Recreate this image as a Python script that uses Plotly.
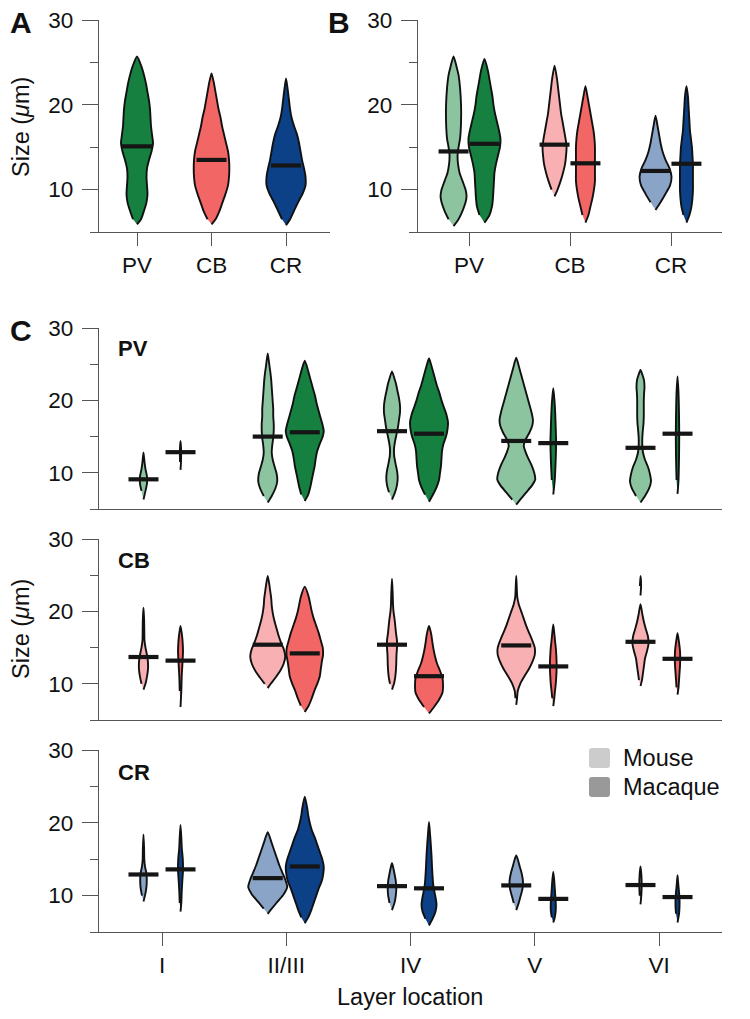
import plotly.graph_objects as go

W, H = 750, 1019

# ---------------- data ----------------
cell_types = ["PV", "CB", "CR"]
layers = ["I", "II/III", "IV", "V", "VI"]

# colours: (mouse, macaque)
colors = {"PV": ("#8cc4a0", "#168040"),
          "CB": ("#f8b0b2", "#f36666"),
          "CR": ("#8aa4c8", "#0c4087")}

# violin profiles: [size (um), density half-width (px)]; None splits a violin into pieces
A_profiles = [
    [[5.9,0],[6.5,4],[7.5,7],[8.5,9.5],[9.5,10.5],[10.5,10],[11.5,9.5],[12.5,10],[13.5,12],[14.5,14.5],[15.5,16],[16.5,15],[17.5,14],[18.5,13.5],[19.5,13],[20.5,12],[21.5,10.5],[22.5,9],[23.5,7],[24.5,4.5],[25.7,0]],
    [[5.9,0],[6.5,4],[7.5,8],[8.5,11],[9.5,14],[10.5,16.5],[11.5,17.5],[12.5,17.8],[13.5,17.5],[14.5,16.5],[15.5,14.5],[16.5,12.5],[17.5,10.5],[18.5,9],[19.5,7],[20.5,5.5],[21.5,4],[22.5,2.5],[23.7,0]],
    [[5.8,0],[6.5,4],[7.5,8],[8.5,12],[9.5,16.5],[10.5,19.5],[11.5,19.5],[12.5,18],[13.5,16],[14.5,14.5],[15.5,13],[16.5,11],[17.5,8],[18.5,5.5],[19.5,4],[20.5,3],[21.5,2],[23.1,0]],
]
A_medians = [15.1, 13.5, 12.85]

B_mouse_profiles = [
    [[5.7,0],[6.5,5],[7.5,9],[8.5,12],[9.2,13],[10,12],[11,9],[12,6],[13,4.5],[14,4],[15,5],[16,6.5],[18,7.5],[20,7.5],[22,6.5],[23.5,5],[24.5,3],[25.7,0]],
    [[9.2,0],[10,3],[11,6],[12,8.5],[13,10.5],[14,11.5],[15,12],[16,11],[17,9.5],[18,8],[19,6.5],[20,5.5],[21,4.5],[22,3.5],[23,2.5],[24.6,0]],
    [[7.6,0],[8.5,5],[9.5,10],[10.5,14.5],[11.5,16],[12.5,14],[13.5,10],[14.5,7],[15.5,5],[16.5,3.5],[17.5,2],[18.7,0]],
]
B_mouse_medians = [14.5, 15.3, 12.2]
B_macaque_profiles = [
    [[6.1,0],[7,5],[8,7.5],[9,8.5],[10,9],[11,9.5],[12,10],[13,11.5],[14,13.5],[15,15.5],[16,16],[17,14.5],[18,12.5],[19,10.5],[20,9],[21,8],[22,6.5],[23,5],[24,3.5],[25.4,0]],
    [[6.1,0],[7,3],[8,5],[9,7],[10,8.5],[11,9.5],[12,9.5],[13,9.5],[14,9.5],[15,9.5],[16,9],[17,8],[18,6.5],[19,5],[20,3.5],[21,2],[22.2,0]],
    [[6.1,0],[7,3],[8,5],[9,6],[10,6.5],[11,6.5],[12,6.5],[13,6.5],[14,6],[15,5.5],[16,4.5],[17,3.5],[18,3],[19,2.5],[20,2],[21,1.5],[22.2,0]],
]
B_macaque_medians = [15.4, 13.1, 13.05]

C_PV_mouse = [
    [[6.3,0],[7.5,2],[8.5,3.5],[9.5,3.5],[10.5,2],[11.5,1],[12.8,0]],
    [[5.9,0],[6.8,4],[7.8,7.5],[8.8,9.5],[9.8,9],[10.8,7],[11.8,5],[12.8,4],[13.8,4.5],[14.8,5.5],[15.8,6],[16.8,6],[17.8,5.5],[18.8,5.5],[19.8,5],[20.8,4.5],[21.8,4],[22.8,3.5],[24,2.5],[25,1.5],[26.5,0]],
    [[6.3,0],[7.3,3],[8.3,5],[9.3,5.7],[10.3,5],[11.3,3.5],[12.3,2.2],[13.3,2],[14.3,3],[15.3,4.5],[16.3,6],[17.3,7],[18.3,8],[19.3,8],[20.3,7],[21.3,5.5],[22.3,4],[23,2.5],[24,0]],
    [[5.6,0],[6.3,4],[7.3,10],[8.3,16],[9.1,19],[10,18],[11,15.5],[12,12],[13,9],[13.7,7.5],[14.5,9],[15.5,13],[16.5,16],[17.3,16.7],[18.5,15],[19.5,13],[20.5,11],[21.5,9],[22.5,7],[23.5,5],[24.5,3],[25.9,0]],
    [[5.9,0],[6.8,4.5],[7.8,8.5],[8.8,10.5],[9.8,9.5],[10.8,7.5],[11.8,4.5],[12.8,2.5],[13.8,1.8],[14.8,1.8],[15.8,2.3],[16.8,3],[17.8,3.3],[18.8,3.3],[19.8,3.3],[20.8,3.5],[21.8,4],[22.8,3.5],[23.5,2],[24.2,0]],
]
C_PV_mouse_medians = [9.1, 15.0, 15.75, 14.4, 13.45]
C_PV_macaque = [
    [[10.4,0],[11.5,0.5],[12.8,0.6],[13.5,0.5],[14.4,0]],
    [[6.1,0],[7,3.5],[8,5.5],[9,7],[10,8.5],[11,10],[12,11],[13,12.5],[14,15],[15,18],[15.8,19],[16.5,18],[17.5,16],[18.5,14],[19.5,12],[20.5,10.5],[21.5,8.5],[22.5,6.5],[23.5,4.5],[24.5,2.5],[25.5,0]],
    [[6,0],[7,4],[8,7.5],[9,10],[10,11],[11,12],[12,12.5],[13,13],[14,14.5],[15,17],[16,18.5],[17,19],[18,17.5],[19,15],[20,12.5],[21,10.5],[22,8],[23,6],[24,4],[25,2],[25.8,0]],
    [[7,0],[9,1.5],[11,2.2],[13,2.7],[14.5,2.8],[16,2.5],[18,2],[20,1.2],[21.7,0]],
    [[7.1,0],[9,1],[12,1.5],[15,1.7],[18,1.5],[21,1],[23.3,0]],
]
C_PV_macaque_medians = [12.85, 15.6, 15.4, 14.1, 15.4]

C_CB_mouse = [
    [[9.2,0],[10,2],[11,3.5],[12,4.5],[13,4.5],[14,3.5],[15,2],[16,1],[17.5,0.8],[19,0.6],[20.5,0]],
    [[9.4,0],[10,3],[10.8,7.5],[11.8,12.5],[12.8,16],[13.8,17.5],[14.8,16],[15.8,13],[16.8,10.5],[17.8,8.5],[18.8,6.5],[19.8,5],[20.8,4],[21.8,3.5],[22.8,2.5],[23.8,1.5],[24.9,0]],
    [[9.2,0],[10,2],[11,3.3],[12,4],[13,4.3],[14,4.5],[15,5],[16,5],[17,4],[18,3.3],[19,2.5],[20,1.5],[21,1],[22.5,0.7],[24.5,0]],
    [[7.1,0],[8,0.8],[9,1.5],[10,4],[11,8],[12,12.5],[13,16],[14,18.5],[15,18.5],[16,16],[17,13],[18,10],[19,7.5],[20,5],[21,2.5],[22,1],[24.9,0]],
    [[9.7,0],[10.5,1.5],[11.5,2.5],[12.5,3.5],[13.5,4.5],[14.5,6.5],[15.5,8],[16.5,7.5],[17.5,5.5],[18.5,3.5],[19.5,2],[21,0], None, [22.2,0],[23.5,0.6],[24.9,0]],
]
C_CB_mouse_medians = [13.7, 15.4, 15.4, 15.3, 15.8]
C_CB_macaque = [
    [[6.8,0],[9,0.8],[11,1.2],[13,2],[14.5,2.5],[16,2],[17,1.2],[18,0]],
    [[6.1,0],[7,4],[8,7],[9,9.5],[10,12.5],[11,15],[12,16],[13,17],[14,18.3],[15,18],[16,16],[17,14],[18,11.5],[19,9],[20,7],[21,5.5],[22,4],[23.4,0]],
    [[5.9,0],[6.8,5],[7.8,10],[8.8,13.5],[9.8,14],[10.8,13.5],[11.8,11],[12.8,8],[13.8,6],[14.8,4.5],[15.8,3.3],[16.8,2.3],[18,0]],
    [[6.9,0],[8,1],[9,1.7],[10,2.5],[11,3],[12,3.3],[13,3.3],[14,3],[15,2.5],[16,1.7],[17,1],[18.2,0]],
    [[8.5,0],[9.5,1],[10.5,1.5],[11.5,2],[12.5,2.5],[13.5,2.7],[14.5,2.5],[15.5,1.7],[16.2,1],[17,0]],
]
C_CB_macaque_medians = [13.2, 14.2, 11.05, 12.4, 13.45]

C_CR_mouse = [
    [[9.2,0],[10,1.5],[11,2.8],[12,3.3],[13,3],[14,1.5],[15,0.8],[16.5,0.6],[18.4,0]],
    [[7.5,0],[8.2,4],[9.2,10],[10.2,16],[11.2,19.5],[12.2,17.5],[13.2,14.5],[14.2,11.5],[15.2,9],[16.2,6.5],[17.2,4],[18.7,0]],
    [[8,0],[9,2.5],[10,3.8],[11,4.3],[12,3.8],[13,2.5],[14,1],[14.5,0]],
    [[8,0],[9,2.5],[10,4.5],[11,6.3],[12,6.7],[13,5.5],[14,3.5],[15,1.5],[15.5,0]],
    [[8.8,0],[10,0.8],[11.5,1.2],[13,0.8],[14,0]],
]
C_CR_mouse_medians = [12.9, 12.4, 11.3, 11.4, 11.45]
C_CR_macaque = [
    [[7.8,0],[9,0.8],[10.5,1.2],[12,1.8],[13.5,2.5],[15,2.3],[16.5,1.3],[18,0.8],[19.7,0]],
    [[6.2,0],[7,3.5],[8,6.5],[9,9],[10,11.5],[11,14],[12,17],[13,18.5],[14,19],[15,17.5],[16,15],[17,12.5],[18,10],[19,7],[20,5],[21,3.5],[22,2.5],[23.6,0]],
    [[5.9,0],[6.8,3.5],[7.8,6.5],[8.8,7.5],[9.8,6.5],[10.8,5],[11.8,4],[12.8,3.5],[14,3],[15.5,2.5],[17,1.8],[18.5,1],[20.1,0]],
    [[6.3,0],[7,1.5],[8,2.5],[9,2.5],[10,2],[11,1.5],[12,1],[13.3,0]],
    [[6.3,0],[7.5,1.5],[8.5,2],[9.5,2],[10.5,1.5],[11.5,0.8],[12.8,0]],
]
C_CR_macaque_medians = [13.6, 14.0, 11.0, 9.55, 9.8]

# ---------------- layout helpers ----------------
FONT = "Liberation Sans, Arial, Helvetica, sans-serif"
AX = "#555555"
TXT = "#111111"
TICK_FS = 22.5
LABEL_FS = 23.5

def fx(px):
    return px / W

def fy(py):
    return 1 - py / H

# axis geometry (pixel domains)
axes_geo = {
    "A": dict(x=(99, 330), rng=(-0.51, 2.59), y=(232, 20)),
    "B": dict(x=(418, 722), rng=(-0.505, 2.505), y=(232, 20)),
    "C1": dict(x=(99, 722), rng=(-0.507, 4.507), y=(509, 328)),
    "C2": dict(x=(99, 722), rng=(-0.507, 4.507), y=(720, 539)),
    "C3": dict(x=(99, 722), rng=(-0.507, 4.507), y=(932, 750)),
}
axis_ids = {"A": ("x", "y"), "B": ("x2", "y2"), "C1": ("x3", "y3"),
            "C2": ("x4", "y4"), "C3": ("x5", "y5")}

def ppu(key):
    g = axes_geo[key]
    return (g["x"][1] - g["x"][0]) / (g["rng"][1] - g["rng"][0])

fig = go.Figure()
median_store = {k: ([], []) for k in axes_geo}

def add_violin(key, center, prof, color, median):
    xa, ya = axis_ids[key]
    s = ppu(key)
    segs, cur = [], []
    for p in prof:
        if p is None:
            segs.append(cur)
            cur = []
        else:
            cur.append(p)
    segs.append(cur)
    for seg in segs:
        vs = [p[0] for p in seg]
        ws = [p[1] / s for p in seg]
        xs = [center + w for w in ws] + [center - w for w in ws[-2:0:-1]]
        ys = vs + vs[-2:0:-1]
        fig.add_trace(go.Scatter(
            x=xs, y=ys, xaxis=xa, yaxis=ya, mode="lines", fill="toself",
            fillcolor=color, line=dict(color="#111111", width=1.9, shape="spline", smoothing=0.6),
            hoverinfo="skip", showlegend=False))
    half = 15 / s
    mx, my = median_store[key]
    mx += [center - half, center + half, None]
    my += [median, median, None]

# Panel A
for i, ct in enumerate(cell_types):
    add_violin("A", i, A_profiles[i], colors[ct][1], A_medians[i])

# Panel B
offB = 0.153
for i, ct in enumerate(cell_types):
    add_violin("B", i - offB, B_mouse_profiles[i], colors[ct][0], B_mouse_medians[i])
    add_violin("B", i + offB, B_macaque_profiles[i], colors[ct][1], B_macaque_medians[i])

# Panel C
offC = 0.149
rowsC = [("C1", "PV", C_PV_mouse, C_PV_mouse_medians, C_PV_macaque, C_PV_macaque_medians),
         ("C2", "CB", C_CB_mouse, C_CB_mouse_medians, C_CB_macaque, C_CB_macaque_medians),
         ("C3", "CR", C_CR_mouse, C_CR_mouse_medians, C_CR_macaque, C_CR_macaque_medians)]
for key, ct, mp, mm, qp, qm in rowsC:
    for i in range(len(layers)):
        add_violin(key, i - offC, mp[i], colors[ct][0], mm[i])
        add_violin(key, i + offC, qp[i], colors[ct][1], qm[i])

# median bars on top
for key, (mx, my) in median_store.items():
    xa, ya = axis_ids[key]
    fig.add_trace(go.Scatter(x=mx, y=my, xaxis=xa, yaxis=ya, mode="lines",
                             line=dict(color="#151515", width=4.2),
                             hoverinfo="skip", showlegend=False))

# axes
layout = dict(width=W, height=H, margin=dict(l=0, r=0, t=0, b=0, autoexpand=False),
              paper_bgcolor="white", plot_bgcolor="white", showlegend=False,
              font=dict(family=FONT, size=TICK_FS, color=TXT))

xticks = {"A": (list(range(3)), cell_types), "B": (list(range(3)), cell_types),
          "C1": (list(range(5)), layers), "C2": (list(range(5)), layers),
          "C3": (list(range(5)), layers)}

for key, g in axes_geo.items():
    xa, ya = axis_ids[key]
    xname = "xaxis" if xa == "x" else "xaxis" + xa[1:]
    yname = "yaxis" if ya == "y" else "yaxis" + ya[1:]
    show_xt = key in ("A", "B", "C3")
    layout[xname] = dict(
        domain=[fx(g["x"][0]), fx(g["x"][1])], range=list(g["rng"]), anchor=ya,
        automargin=False,
        showline=True, linecolor=AX, linewidth=1.4, showgrid=False, zeroline=False,
        tickvals=xticks[key][0], ticktext=xticks[key][1],
        ticks="outside" if show_xt else "", ticklen=13, tickwidth=1.4, tickcolor=AX,
        showticklabels=show_xt, tickfont=dict(size=TICK_FS, family=FONT, color=TXT),
        fixedrange=True)
    layout[yname] = dict(
        domain=[fy(g["y"][0]), fy(g["y"][1])], range=[5, 30], anchor=xa,
        automargin=False,
        showline=True, linecolor=AX, linewidth=1.4, showgrid=False, zeroline=False,
        tickvals=[10, 20, 30], ticks="outside", ticklen=16, tickwidth=1.4, tickcolor=AX,
        ticklabelstandoff=4,
        minor=dict(tickvals=[5, 15, 25], ticks="outside", ticklen=8, tickwidth=1.4,
                   tickcolor=AX, showgrid=False),
        tickfont=dict(size=TICK_FS, family=FONT, color=TXT), fixedrange=True)

fig.update_layout(**layout)

# annotations
ann = []
def text(px, py, s, size=LABEL_FS, xanchor="center", angle=0, bold=False):
    ann.append(dict(x=fx(px), y=fy(py), xref="paper", yref="paper", text=("<b>%s</b>" % s) if bold else s,
                    showarrow=False, xanchor=xanchor, yanchor="middle", textangle=angle,
                    borderpad=0, font=dict(size=size, family=FONT, color=TXT)))

text(9, 23, "A", size=30, xanchor="left", bold=True)
text(327, 23, "B", size=30, xanchor="left", bold=True)
text(9, 331, "C", size=30, xanchor="left", bold=True)
text(117, 349, "PV", size=22, xanchor="left", bold=True)
text(117, 560, "CB", size=22, xanchor="left", bold=True)
text(117, 772, "CR", size=22, xanchor="left", bold=True)
text(21, 127, "Size (<i>μ</i>m)", angle=-90)
text(21, 629, "Size (<i>μ</i>m)", angle=-90)
text(410, 997, "Layer location")

# legend
legend_items = [("Mouse", "#cccccc", 758), ("Macaque", "#999999", 787)]
shapes = []
for label, col, cy in legend_items:
    x0, x1, y0, y1, r = 589, 610, cy - 10, cy + 10, 3
    path = ("M {a},{b} L {c},{b} Q {d},{b} {d},{e} L {d},{f} Q {d},{g} {c},{g} "
            "L {a},{g} Q {h},{g} {h},{f} L {h},{e} Q {h},{b} {a},{b} Z").format(
        a=fx(x0 + r), b=fy(y0), c=fx(x1 - r), d=fx(x1), e=fy(y0 + r), f=fy(y1 - r),
        g=fy(y1), h=fx(x0))
    shapes.append(dict(type="path", path=path, xref="paper", yref="paper",
                       fillcolor=col, line=dict(width=0)))
    text(622, cy, label, size=LABEL_FS, xanchor="left")

fig.update_layout(annotations=ann, shapes=shapes)
fig.write_html("out.html", config={"displayModeBar": False},
               post_script="document.body.style.margin='0px';")
